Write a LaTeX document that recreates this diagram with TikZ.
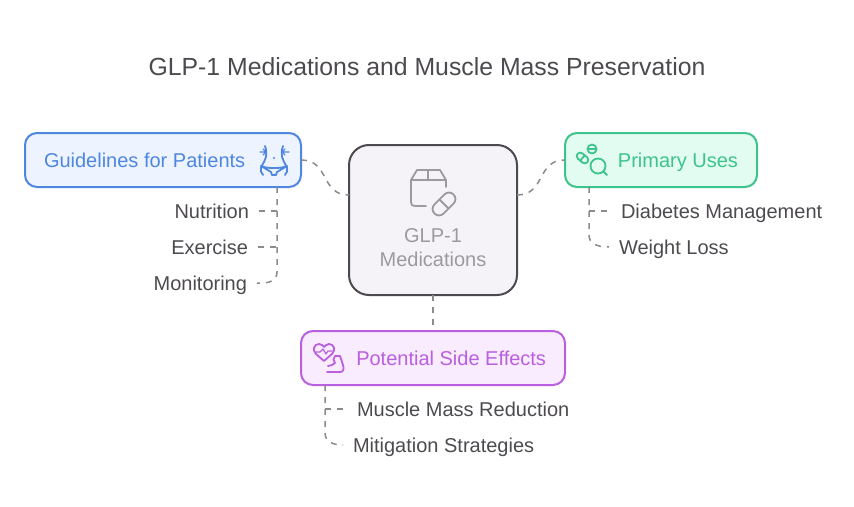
\documentclass[tikz,border=0pt]{standalone}
\usepackage{fontspec}
\setmainfont{Liberation Sans}
\definecolor{inkgray}{HTML}{4D4A4F}
\definecolor{paleink}{HTML}{9B9A9C}
\definecolor{linkgray}{HTML}{8C8A8C}
\definecolor{glpfill}{HTML}{F5F3F7}
\definecolor{bluedge}{HTML}{4F86E0}
\definecolor{bluefill}{HTML}{EDF3FF}
\definecolor{greenedge}{HTML}{3CC48C}
\definecolor{greenfill}{HTML}{E3FCF1}
\definecolor{violetedge}{HTML}{B95FE0}
\definecolor{violetfill}{HTML}{F9ECFF}
\tikzset{
headbox/.style={draw,line width=2pt,rounded corners=12pt,minimum height=54pt,inner xsep=19pt,inner ysep=0pt,outer sep=0pt,text height=18pt,text depth=4pt,font=\fontsize{20}{24}\selectfont},
subitem/.style={text=inkgray,inner xsep=10pt,inner ysep=0pt,outer sep=0pt,text height=18pt,text depth=4pt,font=\fontsize{20}{24}\selectfont},
link/.style={draw=linkgray,line width=1.5pt,dash pattern=on 6pt off 6pt},
icon/.style={line width=1.8pt,line cap=round,line join=round,fill=none}
}
\begin{document}
\begin{tikzpicture}[x=1pt,y=-1pt]
\useasboundingbox(0,0)rectangle(854,506);
\node[text=inkgray,font=\fontsize{24.8}{28}\selectfont](title)at(427,67){GLP-1 Medications and Muscle Mass Preservation};
\node[draw=inkgray,line width=2pt,fill=glpfill,rounded corners=20pt,minimum width=168pt,minimum height=150pt,outer sep=0pt,inner sep=0pt](glp)at(433,220){};
\node[text=paleink,align=center,font=\fontsize{20}{24}\selectfont](glptext)at(433,248){GLP-1\\Medications};
\node[headbox,draw=bluedge,fill=bluefill,text=bluedge,text width=238pt,align=flush left](guide)at(163,160){Guidelines for Patients};
\node[headbox,draw=greenedge,fill=greenfill,text=greenedge,text width=154pt,align=flush right](uses)at(661,160){Primary Uses};
\node[headbox,draw=violetedge,fill=violetfill,text=violetedge,text width=226pt,align=flush right](effects)at(433,358){Potential Side Effects};
\node[subitem,anchor=east](nutrition)at(259,211){Nutrition};
\node[subitem,anchor=east](exercise)at(258,247){Exercise};
\node[subitem,anchor=east](monitoring)at(257,283){Monitoring};
\node[subitem,anchor=west](diabetes)at(611,211){Diabetes Management};
\node[subitem,anchor=west](weight)at(609,247){Weight Loss};
\node[subitem,anchor=west](muscle)at(347,409){Muscle Mass Reduction};
\node[subitem,anchor=west](mitigation)at(343,445){Mitigation Strategies};
\coordinate(guidefoot)at(277,187);
\coordinate(usesfoot)at(589,187);
\coordinate(effectsfoot)at(325,385);
\draw[link](guide.east)..controls(330,160)and(320,195)..(glp.west|-0,195);
\draw[link](glp.east|-0,195)..controls(546,195)and(536,160)..(uses.west);
\draw[link](glp.south)--(effects.north);
\draw[link](guidefoot)--(277,272)..controls(277,280)and(270,284)..(monitoring.east);
\draw[link](nutrition.east)--(guidefoot|-nutrition.east);
\draw[link](exercise.east)--(guidefoot|-exercise.east);
\draw[link](usesfoot)--(589,235)..controls(589,243)and(596,247)..(weight.west);
\draw[link](usesfoot|-diabetes.west)--(diabetes.west);
\draw[link](effectsfoot)--(325,433)..controls(325,441)and(332,445)..(mitigation.west);
\draw[link](effectsfoot|-muscle.west)--(muscle.west);
%box and capsule
\draw[icon,paleink](446,187)--(446,180)--(440,170)--(417,170)--(411,180)--(446,180)(428,170)--(428,180)(411,180)--(411,202)..controls(411,205)and(412,206)..(415,206)--(426,206);
\begin{scope}[shift={(444,204)},rotate=45]
\draw[icon,paleink,rounded corners=6.5pt](-13.5,-6.5)rectangle(13.5,6.5);
\draw[icon,paleink](0,-6.5)--(0,6.5);
\end{scope}
%waist
\draw[icon,bluedge](265,146)..controls(268,155)and(266,159)..(261,167)..controls(260,170)and(261,173)..(263,175)(283,146)..controls(280,155)and(282,159)..(287,167)..controls(288,170)and(287,173)..(285,175);
\draw[icon,bluedge](261,166)..controls(266,168)and(270,168)..(274,168)..controls(278,168)and(282,168)..(287,166)(261,166)--(271,172)--(272,175)--(276,175)--(277,172)--(287,166);
\fill[bluedge](274,158)circle(1.2);
\draw[icon,bluedge,line width=1.4pt](260,152)--(266,152)(263,149)--(266,152)--(263,155)(289,152)--(282,152)(285,149)--(282,152)--(285,155);
%pills and lens
\begin{scope}[shift={(582.5,158)},rotate=-40]
\draw[icon,greenedge,rounded corners=3.5pt](-6.5,-3.5)rectangle(6.5,3.5);
\draw[icon,greenedge](0,-3.5)--(0,3.5);
\end{scope}
\draw[icon,greenedge](592,149)circle(4.5)(588,149)--(596,149);
\draw[icon,greenedge](598,166)circle(7.5)(603.5,171.5)--(607,175);
%heart and arm
\draw[icon,violetedge](324,361)--(316,354)..controls(312,350)and(314,344)..(319,344)..controls(322,344)and(323,346)..(324,347)..controls(325,346)and(327,344)..(329,344)..controls(334,344)and(336,350)..(332,354)--(324,361);
\draw[icon,violetedge,line width=1.2pt](316,352)--(320,352)--(323,349)--(326,354)--(328,351)--(332,351);
\draw[icon,violetedge](327,372)--(340,372)..controls(344,372)and(344,368)..(343,365)--(340,356)--(335,356)..controls(333,358)and(333,361)..(335,363)..controls(333,365)and(330,366)..(328,366);
\end{tikzpicture}
\end{document}
